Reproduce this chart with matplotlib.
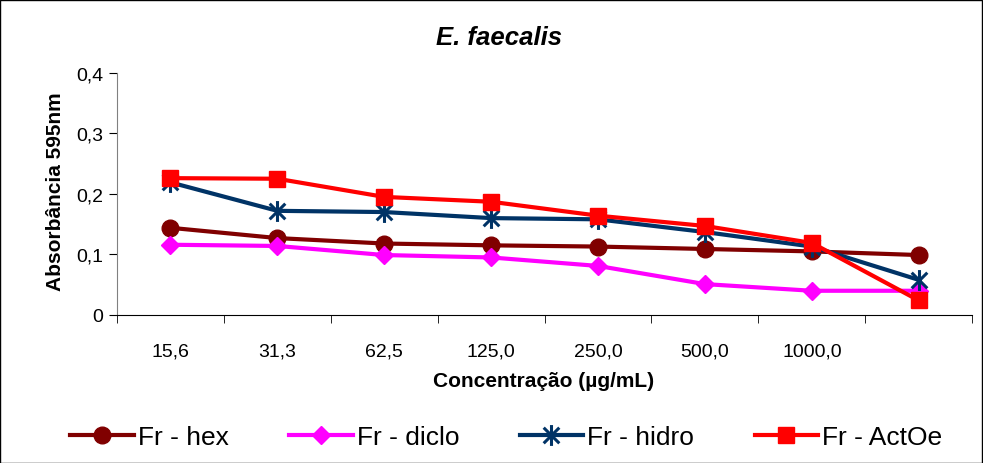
import numpy as np
import matplotlib.pyplot as plt
from matplotlib.path import Path
from matplotlib.patches import Rectangle

plt.rcParams['font.family'] = ['Liberation Sans', 'DejaVu Sans']

CONC = ["15,6", "31,3", "62,5", "125,0", "250,0", "500,0", "1000,0", ""]
HEX = [0.144, 0.127, 0.118, 0.115, 0.113, 0.109, 0.105, 0.099]
DICLO = [0.116, 0.114, 0.099, 0.095, 0.081, 0.051, 0.040, 0.040]
HIDRO = [0.219, 0.172, 0.170, 0.160, 0.158, 0.137, 0.113, 0.058]
ACTOE = [0.226, 0.225, 0.195, 0.187, 0.164, 0.147, 0.119, 0.024]
LABELS = ["Fr - hex", "Fr - diclo", "Fr - hidro", "Fr - ActOe"]

# asterisk like excel's star marker: vertical bar plus an X
star = Path([(0, -1), (0, 1), (-0.75, -0.75), (0.75, 0.75), (-0.75, 0.75), (0.75, -0.75)],
            [Path.MOVETO, Path.LINETO, Path.MOVETO, Path.LINETO, Path.MOVETO, Path.LINETO])

fig = plt.figure(figsize=(9.83, 4.64), dpi=100)
ax = fig.add_axes([0.119, 0.319, 0.870, 0.522])

x = np.arange(len(CONC))
styles = [
    dict(color='#800000', marker='o', markersize=12),
    dict(color='#FF00FF', marker='D', markersize=9),
    dict(color='#003366', marker=star, markersize=15, markeredgewidth=2.2),
    dict(color='#FF0000', marker='s', markersize=11),
]
for vals, lab, st in zip([HEX, DICLO, HIDRO, ACTOE], LABELS, styles):
    ax.plot(x, vals, linewidth=3, label=lab, **st)

ax.set_xlim(-0.5, len(CONC) - 0.5)
ax.set_ylim(0, 0.4)
ax.set_yticks([0, 0.1, 0.2, 0.3, 0.4])
ax.set_yticklabels(["0", "0,1", "0,2", "0,3", "0,4"], fontsize=14)
ax.set_xticks(x)
ax.set_xticklabels(CONC, fontsize=14)
ax.tick_params(axis='x', length=0, pad=20)
ax.set_xticks(np.arange(len(CONC) + 1) - 0.5, minor=True)
ax.tick_params(axis='x', which='minor', length=6, direction='out')
ax.tick_params(axis='y', length=6, direction='out', pad=4)
for s in ['top', 'right']:
    ax.spines[s].set_visible(False)
ax.spines['left'].set_color('#808080')
ax.spines['bottom'].set_color('black')

fig.text(0.508, 0.918, "E. faecalis", fontsize=18.5, fontweight='bold', fontstyle='italic',
         ha='center', va='center')
fig.text(0.056, 0.586, "Absorbância 595nm", fontsize=15, fontweight='bold',
         rotation=90, ha='center', va='center')
fig.text(0.553, 0.177, "Concentração (µg/mL)", fontsize=15, fontweight='bold',
         ha='center', va='center')

fig.legend(loc='center', bbox_to_anchor=(0.515, 0.056), ncol=4, frameon=False,
           fontsize=19, handlelength=2.4, columnspacing=2.3, handletextpad=0.15)

fig.add_artist(Rectangle((0.0005, 0.001), 0.998, 0.997, transform=fig.transFigure,
                         fill=False, edgecolor='black', linewidth=1))

plt.savefig('out.png', dpi=100)
